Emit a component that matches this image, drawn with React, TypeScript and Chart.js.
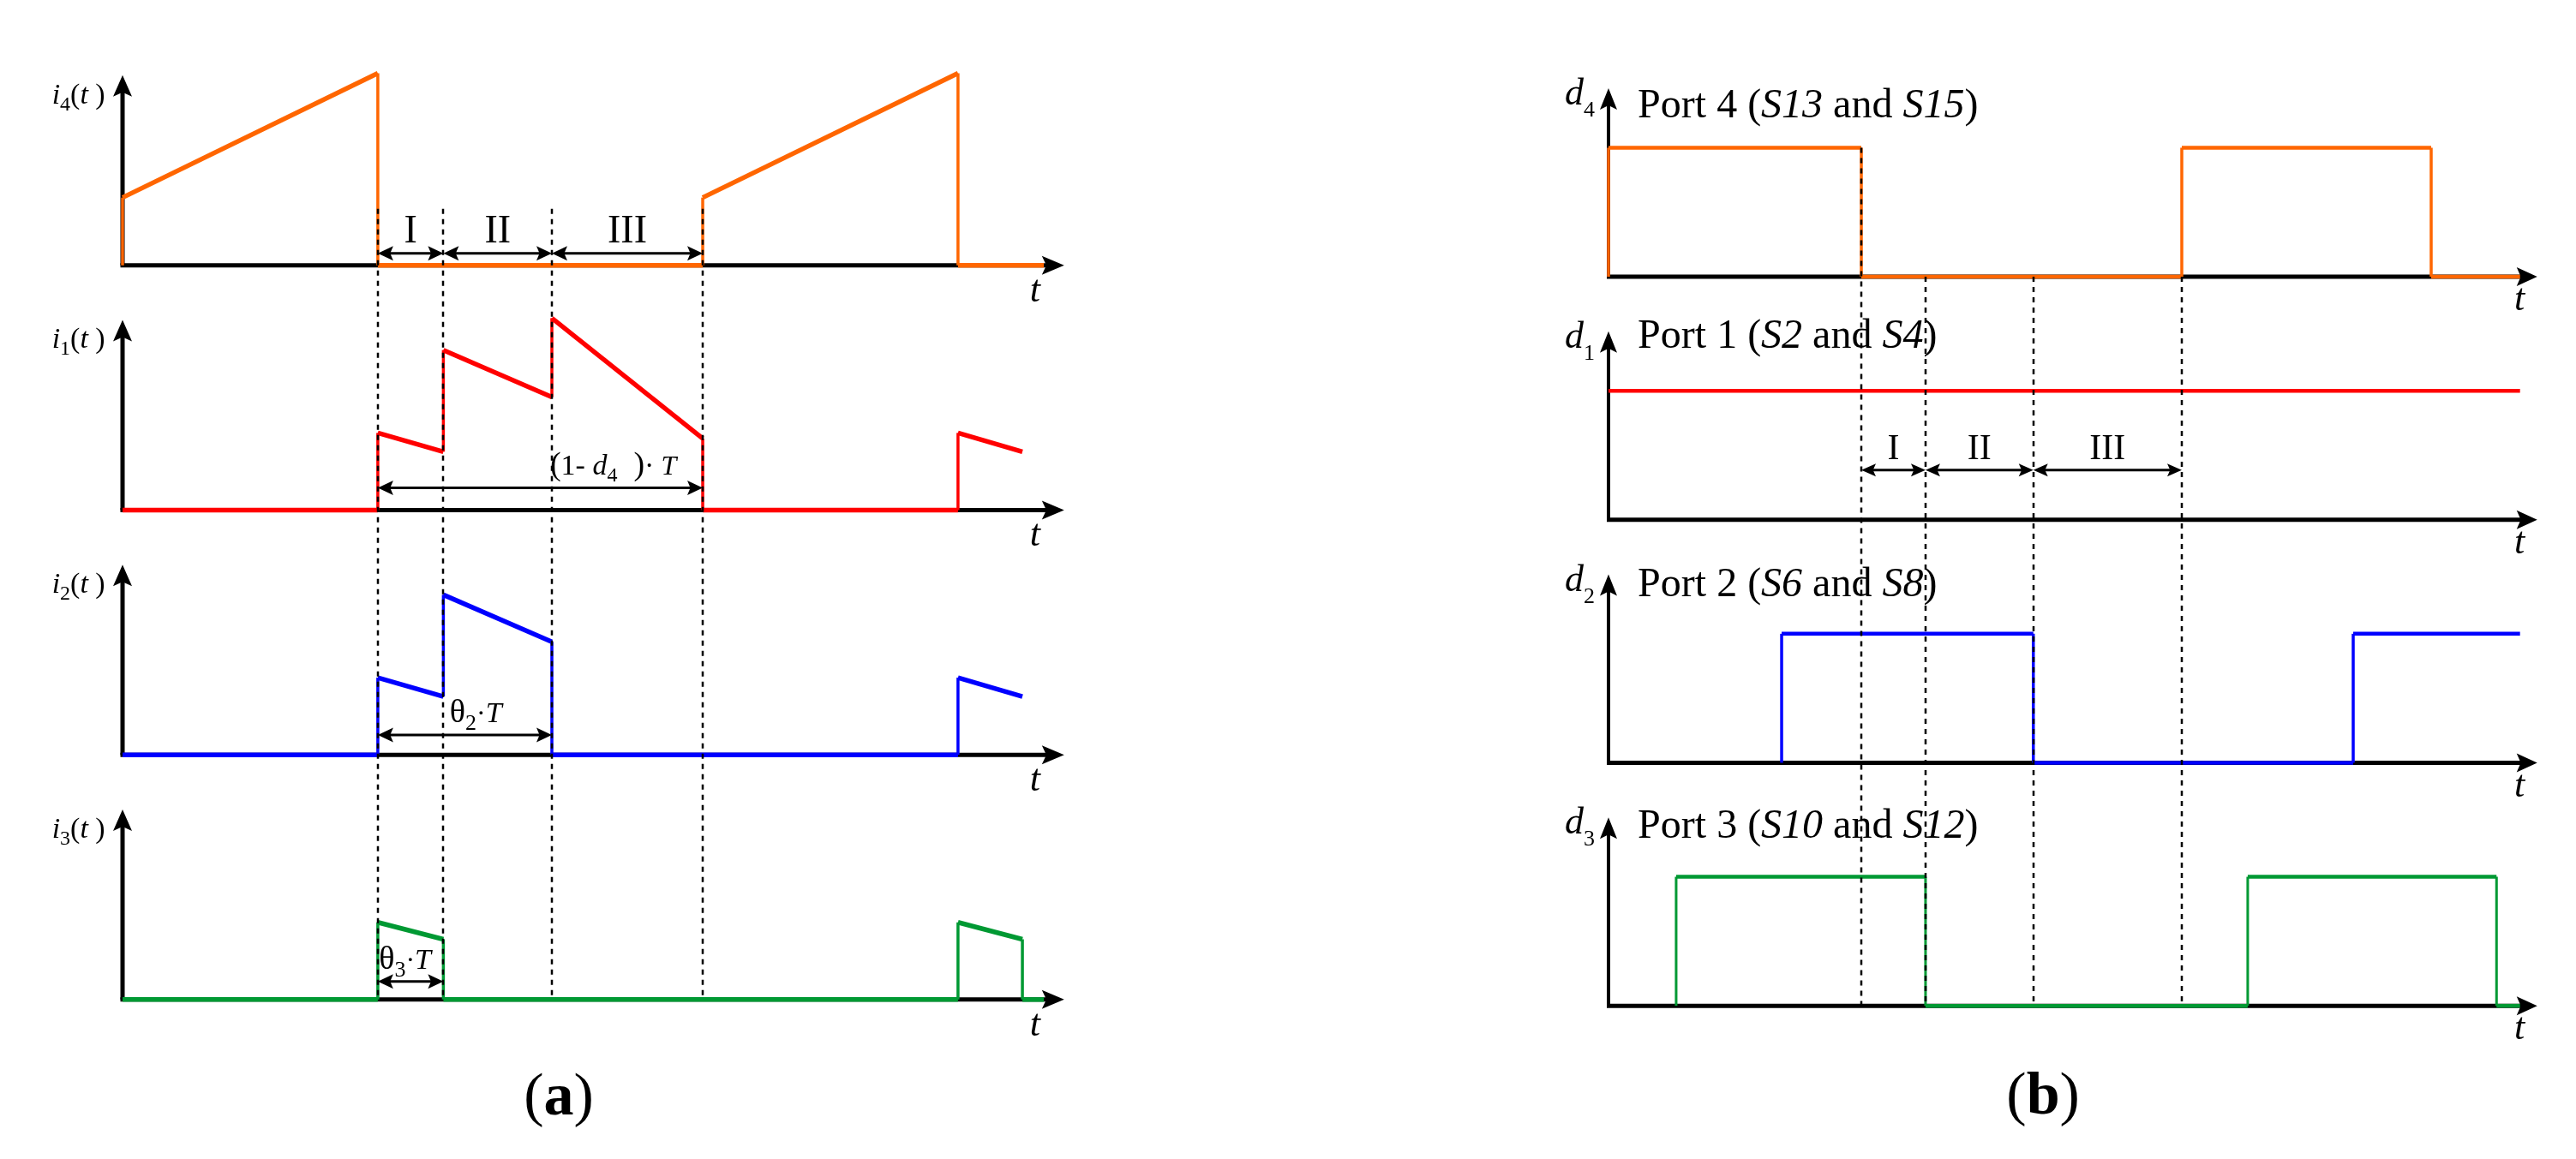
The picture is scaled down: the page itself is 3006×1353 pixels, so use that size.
import React, { useEffect, useRef } from 'react';
import { Chart, registerables } from 'chart.js';

Chart.register(...registerables);

const FACE = '"Liberation Serif", "Times New Roman", serif';
const f = (size: number, style = '') => `${style ? style + ' ' : ''}${size}px ${FACE}`;

const ORANGE = '#FF6600';
const RED = '#FF0000';
const BLUE = '#0000FF';
const GREEN = '#009933';

// ---------- Panel (a): port currents, time in units of the switching period T ----------
const i4Time = [0, 0, 0.44, 0.44, 1.0, 1.0, 1.44, 1.44, 1.588];
const i4Val = [0, 0.36, 1.02, 0, 0, 0.36, 1.02, 0, 0];
const i1Time = [0, 0.44, 0.44, 0.553, 0.553, 0.74, 0.74, 1.0, 1.0, 1.44, 1.44, 1.551];
const i1Val = [0, 0, 0.41, 0.31, 0.85, 0.6, 1.02, 0.38, 0, 0, 0.41, 0.31];
const i2Time = [0, 0.44, 0.44, 0.553, 0.553, 0.74, 0.74, 1.44, 1.44, 1.551];
const i2Val = [0, 0, 0.41, 0.31, 0.85, 0.6, 0, 0, 0.41, 0.31];
const i3Time = [0, 0.44, 0.44, 0.553, 0.553, 1.44, 1.44, 1.551, 1.551, 1.588];
const i3Val = [0, 0, 0.41, 0.32, 0, 0, 0.41, 0.32, 0, 0];
const phaseTimesA = [0.44, 0.553, 0.74, 1.0];
const phaseNames = ['I', 'II', 'III'];

// ---------- Panel (b): gate duty signals ----------
const d4Time = [0, 0, 0.441, 0.441, 1.0, 1.0, 1.435, 1.435, 1.59];
const d4Val = [0, 0.69, 0.69, 0, 0, 0.69, 0.69, 0, 0];
const d1Time = [0, 1.59];
const d1Val = [0.69, 0.69];
const d2Time = [0.302, 0.302, 0.741, 0.741, 1.299, 1.299, 1.59];
const d2Val = [0, 0.69, 0.69, 0, 0, 0.69, 0.69];
const d3Time = [0.118, 0.118, 0.553, 0.553, 1.115, 1.115, 1.549, 1.549, 1.59];
const d3Val = [0, 0.69, 0.69, 0, 0, 0.69, 0.69, 0, 0];
const phaseTimesB = [0.441, 0.553, 0.741, 1.0];
const portNames = ['Port 4', 'Port 1', 'Port 2', 'Port 3'];
const portSwitches = [['S13', 'S15'], ['S2', 'S4'], ['S6', 'S8'], ['S10', 'S12']];
const portIndex = ['4', '1', '2', '3'];

const pts = (xs: number[], ys: number[]) => xs.map((x, i) => ({ x, y: ys[i] }));

type Part = { t: string; font: string; dy?: number };

function drawRich(ctx: CanvasRenderingContext2D, parts: Part[], x: number, y: number, align: string) {
  ctx.save();
  ctx.textBaseline = 'alphabetic';
  ctx.textAlign = 'left';
  ctx.fillStyle = '#000';
  const widths = parts.map((p) => {
    ctx.font = p.font;
    return ctx.measureText(p.t).width;
  });
  const total = widths.reduce((a, b) => a + b, 0);
  let cx = align === 'left' ? x : align === 'center' ? x - total / 2 : x - total;
  parts.forEach((p, i) => {
    ctx.font = p.font;
    ctx.fillText(p.t, cx, y + (p.dy || 0));
    cx += widths[i];
  });
  ctx.restore();
}

function arrowHead(ctx: CanvasRenderingContext2D, tx: number, ty: number, dx: number, dy: number, len: number, half: number) {
  const bx = tx - dx * len;
  const by = ty - dy * len;
  const nx = -dy;
  const ny = dx;
  ctx.beginPath();
  ctx.moveTo(tx, ty);
  ctx.lineTo(bx + nx * half, by + ny * half);
  ctx.lineTo(tx - dx * len * 0.8, ty - dy * len * 0.8);
  ctx.lineTo(bx - nx * half, by - ny * half);
  ctx.closePath();
  ctx.fill();
}

interface Spec {
  yIds: string[];
  xTip: number;
  yTip: number;
  axisW: { x: number; y: number };
  head: { xLen: number; xHalf: number; yLen: number; yHalf: number };
  dashed: { times: number[]; from: number[]; fromId: string; toId: string };
  spans: { id: string; y: number; from: number; to: number }[];
  spanHead: { len: number; half: number; lw: number };
  texts: { id: string; x: number; y: number; parts: Part[]; align: string }[];
}

function diagramPlugin(spec: Spec) {
  return {
    id: 'diagram',
    beforeDatasetsDraw(chart: any) {
      const ctx = chart.ctx as CanvasRenderingContext2D;
      const xs = chart.scales.x;
      const x0 = xs.getPixelForValue(0);
      const xTip = xs.getPixelForValue(spec.xTip);
      ctx.save();
      ctx.fillStyle = '#000';
      ctx.strokeStyle = '#000';
      ctx.lineCap = 'butt';
      for (const id of spec.yIds) {
        const ys = chart.scales[id];
        const yb = ys.getPixelForValue(0);
        const yTop = ys.getPixelForValue(spec.yTip);
        ctx.lineWidth = spec.axisW.x;
        ctx.beginPath();
        ctx.moveTo(x0 - spec.axisW.y / 2, yb);
        ctx.lineTo(xTip - spec.head.xLen * 0.7, yb);
        ctx.stroke();
        ctx.lineWidth = spec.axisW.y;
        ctx.beginPath();
        ctx.moveTo(x0, yb);
        ctx.lineTo(x0, yTop + spec.head.yLen * 0.7);
        ctx.stroke();
        arrowHead(ctx, xTip, yb, 1, 0, spec.head.xLen, spec.head.xHalf);
        arrowHead(ctx, x0, yTop, 0, -1, spec.head.yLen, spec.head.yHalf);
      }
      ctx.restore();
    },
    afterDatasetsDraw(chart: any) {
      const ctx = chart.ctx as CanvasRenderingContext2D;
      const xs = chart.scales.x;
      // dashed phase boundaries
      ctx.save();
      ctx.strokeStyle = '#000';
      ctx.lineWidth = 2.5;
      ctx.setLineDash([6, 6]);
      spec.dashed.times.forEach((t, i) => {
        const x = Math.round(xs.getPixelForValue(t));
        const y1 = chart.scales[spec.dashed.fromId].getPixelForValue(spec.dashed.from[i]);
        const y2 = chart.scales[spec.dashed.toId].getPixelForValue(0);
        ctx.beginPath();
        ctx.moveTo(x, y1);
        ctx.lineTo(x, y2);
        ctx.stroke();
      });
      ctx.restore();
      // double-headed span arrows
      ctx.save();
      ctx.fillStyle = '#000';
      ctx.strokeStyle = '#000';
      ctx.lineWidth = spec.spanHead.lw;
      for (const s of spec.spans) {
        const y = chart.scales[s.id].getPixelForValue(s.y);
        const xa = xs.getPixelForValue(s.from);
        const xb = xs.getPixelForValue(s.to);
        ctx.beginPath();
        ctx.moveTo(xa + spec.spanHead.len * 0.5, y);
        ctx.lineTo(xb - spec.spanHead.len * 0.5, y);
        ctx.stroke();
        arrowHead(ctx, xa, y, -1, 0, spec.spanHead.len, spec.spanHead.half);
        arrowHead(ctx, xb, y, 1, 0, spec.spanHead.len, spec.spanHead.half);
      }
      ctx.restore();
      // texts
      for (const t of spec.texts) {
        const x = xs.getPixelForValue(t.x);
        const y = chart.scales[t.id].getPixelForValue(t.y);
        drawRich(ctx, t.parts, x, y, t.align);
      }
    },
  };
}

function yScales(ids: string[]) {
  const out: any = {};
  ids.forEach((id, k) => {
    out[id] = {
      type: 'linear',
      display: false,
      min: -0.25,
      max: 1.05,
      position: 'left',
      stack: 'panels',
      stackWeight: 1,
      weight: ids.length - k,
    };
  });
  return out;
}

const segWidth = (thick: number, thin: number) => (c: any) =>
  Math.abs(c.p0.x - c.p1.x) < 0.5 ? thin : thick;

function lineSet(label: string, xs: number[], ys: number[], yId: string, color: string, thick: number, thin: number) {
  return {
    label,
    data: pts(xs, ys),
    xAxisID: 'x',
    yAxisID: yId,
    borderColor: color,
    borderWidth: thick,
    pointRadius: 0,
    fill: false,
    tension: 0,
    clip: false,
    borderJoinStyle: 'miter',
    borderCapStyle: 'butt',
    segment: { borderWidth: segWidth(thick, thin) },
  };
}

const idsA = ['y4', 'y1', 'y2', 'y3'];
const idsB = ['y4', 'y1', 'y2', 'y3'];

function configA() {
  const texts: any[] = [];
  ['4', '1', '2', '3'].forEach((n, k) => {
    texts.push({
      id: idsA[k], x: -0.03, y: 0.86, align: 'right',
      parts: [
        { t: 'i', font: f(34, 'italic') },
        { t: n, font: f(24), dy: 8 },
        { t: '(', font: f(34) },
        { t: 't', font: f(34, 'italic') },
        { t: ' )', font: f(34) },
      ],
    });
    texts.push({ id: idsA[k], x: 1.573, y: -0.19, align: 'center', parts: [{ t: 't', font: f(44, 'italic') }] });
  });
  phaseNames.forEach((name, k) => {
    texts.push({
      id: 'y4', x: (phaseTimesA[k] + phaseTimesA[k + 1]) / 2, y: 0.123, align: 'center',
      parts: [{ t: name, font: f(46) }],
    });
  });
  texts.push({
    id: 'y1', x: 0.737, y: 0.187, align: 'left',
    parts: [
      { t: '(', font: f(38) },
      { t: '1- ', font: f(34) },
      { t: 'd', font: f(34, 'italic') },
      { t: '4', font: f(24), dy: 8 },
      { t: '  )', font: f(38) },
      { t: '·', font: f(34) },
      { t: ' T', font: f(32, 'italic') },
    ],
  });
  texts.push({
    id: 'y2', x: 0.564, y: 0.173, align: 'left',
    parts: [
      { t: 'θ', font: f(38) },
      { t: '2', font: f(26), dy: 9 },
      { t: '·', font: f(32) },
      { t: 'T', font: f(34, 'italic') },
    ],
  });
  texts.push({
    id: 'y3', x: 0.442, y: 0.164, align: 'left',
    parts: [
      { t: 'θ', font: f(38) },
      { t: '3', font: f(26), dy: 9 },
      { t: '·', font: f(32) },
      { t: 'T', font: f(34, 'italic') },
    ],
  });
  texts.push({
    id: 'y3', x: 0.752, y: -0.61, align: 'center',
    parts: [{ t: '(', font: f(70) }, { t: 'a', font: f(70, 'bold') }, { t: ')', font: f(70) }],
  });

  const spans: any[] = [];
  for (let k = 0; k < 3; k++) spans.push({ id: 'y4', y: 0.064, from: phaseTimesA[k], to: phaseTimesA[k + 1] });
  spans.push({ id: 'y1', y: 0.118, from: phaseTimesA[0], to: phaseTimesA[3] });
  spans.push({ id: 'y2', y: 0.105, from: phaseTimesA[0], to: phaseTimesA[2] });
  spans.push({ id: 'y3', y: 0.096, from: phaseTimesA[0], to: phaseTimesA[1] });

  const spec: Spec = {
    yIds: idsA,
    xTip: 1.623,
    yTip: 1.01,
    axisW: { x: 5, y: 5 },
    head: { xLen: 26, xHalf: 11, yLen: 25, yHalf: 11 },
    dashed: { times: phaseTimesA, from: [0.3, 0.3, 0.3, 0.3], fromId: 'y4', toId: 'y3' },
    spans,
    spanHead: { len: 18, half: 8.5, lw: 3 },
    texts,
  };

  return {
    type: 'line',
    data: {
      datasets: [
        lineSet('i4', i4Time, i4Val, 'y4', ORANGE, 5.5, 3.5),
        lineSet('i1', i1Time, i1Val, 'y1', RED, 5.5, 3.5),
        lineSet('i2', i2Time, i2Val, 'y2', BLUE, 5.5, 3.5),
        lineSet('i3', i3Time, i3Val, 'y3', GREEN, 5.5, 3.5),
      ],
    },
    options: {
      animation: false,
      responsive: false,
      maintainAspectRatio: false,
      devicePixelRatio: 1,
      events: [],
      layout: { padding: { left: 143, right: 219.6, top: 79, bottom: 131.2 } },
      plugins: { legend: { display: false }, tooltip: { enabled: false }, title: { display: false } },
      scales: {
        x: { type: 'linear', display: false, min: 0, max: 1.68 },
        ...yScales(idsA),
      },
    },
    plugins: [diagramPlugin(spec)],
  };
}

function configB() {
  const texts: any[] = [];
  const portY = [0.852, 0.92, 0.89, 0.9];
  idsB.forEach((id, k) => {
    texts.push({
      id, x: -0.024, y: 0.92, align: 'right',
      parts: [
        { t: 'd', font: f(44, 'italic') },
        { t: portIndex[k], font: f(26), dy: 14 },
      ],
    });
    texts.push({
      id, x: 0.051, y: portY[k], align: 'left',
      parts: [
        { t: portNames[k] + ' (', font: f(48) },
        { t: portSwitches[k][0], font: f(48, 'italic') },
        { t: ' and ', font: f(48) },
        { t: portSwitches[k][1], font: f(48, 'italic') },
        { t: ')', font: f(48) },
      ],
    });
    texts.push({ id, x: 1.589, y: -0.18, align: 'center', parts: [{ t: 't', font: f(44, 'italic') }] });
  });
  phaseNames.forEach((name, k) => {
    texts.push({
      id: 'y1', x: (phaseTimesB[k] + phaseTimesB[k + 1]) / 2, y: 0.325, align: 'center',
      parts: [{ t: name, font: f(42) }],
    });
  });
  texts.push({
    id: 'y3', x: 0.758, y: -0.577, align: 'center',
    parts: [{ t: '(', font: f(70) }, { t: 'b', font: f(70, 'bold') }, { t: ')', font: f(70) }],
  });

  const spans: any[] = [];
  for (let k = 0; k < 3; k++) spans.push({ id: 'y1', y: 0.266, from: phaseTimesB[k], to: phaseTimesB[k + 1] });

  const spec: Spec = {
    yIds: idsB,
    xTip: 1.62,
    yTip: 1.008,
    axisW: { x: 5, y: 4 },
    head: { xLen: 24, xHalf: 11, yLen: 25, yHalf: 10 },
    dashed: { times: phaseTimesB, from: [0.69, 0, 0, 0], fromId: 'y4', toId: 'y3' },
    spans,
    spanHead: { len: 17, half: 7.5, lw: 3 },
    texts,
  };

  return {
    type: 'line',
    data: {
      datasets: [
        lineSet('d4', d4Time, d4Val, 'y4', ORANGE, 4.5, 3.5),
        lineSet('d1', d1Time, d1Val, 'y1', RED, 4.5, 3.5),
        lineSet('d2', d2Time, d2Val, 'y2', BLUE, 4.5, 3.5),
        lineSet('d3', d3Time, d3Val, 'y3', GREEN, 4.5, 3),
      ],
    },
    options: {
      animation: false,
      responsive: false,
      maintainAspectRatio: false,
      devicePixelRatio: 1,
      events: [],
      layout: { padding: { left: 377, right: 5.1, top: 93.9, bottom: 124.3 } },
      plugins: { legend: { display: false }, tooltip: { enabled: false }, title: { display: false } },
      scales: {
        x: { type: 'linear', display: false, min: 0, max: 1.68 },
        ...yScales(idsB),
      },
    },
    plugins: [diagramPlugin(spec)],
  };
}

function DiagramChart({ left, width, height, make }: { left: number; width: number; height: number; make: () => any }) {
  const ref = useRef<HTMLCanvasElement>(null);
  useEffect(() => {
    const chart = new Chart(ref.current as HTMLCanvasElement, make());
    return () => chart.destroy();
  }, []);
  return (
    <canvas
      ref={ref}
      width={width}
      height={height}
      style={{ position: 'absolute', left, top: 0, width, height, display: 'block' }}
    />
  );
}

export default function App() {
  useEffect(() => {
    document.body.style.overflow = 'hidden';
  }, []);
  return (
    <div style={{ position: 'absolute', left: 0, top: 0, width: 3006, height: 1353, background: '#fff', overflow: 'hidden' }}>
      <DiagramChart left={0} width={1500} height={1353} make={configA} />
      <DiagramChart left={1500} width={1506} height={1353} make={configB} />
    </div>
  );
}
